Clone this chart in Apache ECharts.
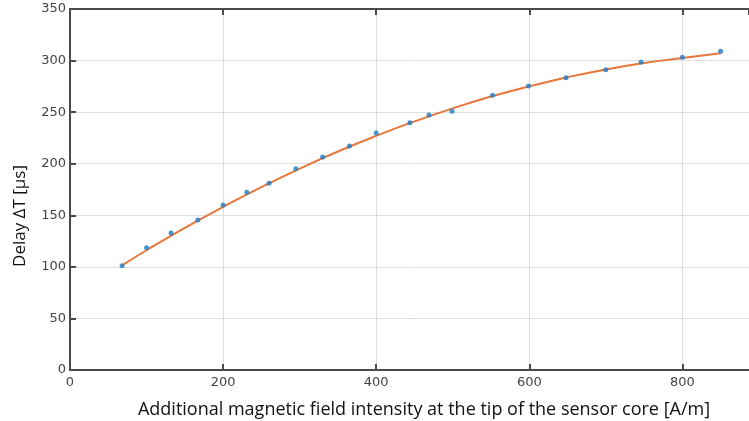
<!DOCTYPE html>
<html>
<head>
<meta charset="utf-8">
<script src="https://cdn.jsdelivr.net/npm/echarts@6/dist/echarts.min.js"></script>
<style>
html, body { margin: 0; padding: 0; background: #fff; }
#chart { width: 749px; height: 421px; }
</style>
</head>
<body>
<div id="chart"></div>
<script>
// measured points
var field_x = [68, 100, 132, 167, 200, 231, 260, 295, 330, 365, 400, 444, 469, 499, 552, 599, 648, 700, 746, 800, 850];
var delay_y = [101, 118.6, 132.8, 145.4, 160, 172.3, 181, 195, 206.5, 217.2, 229.8, 239.8, 247.2, 250.8, 266.3, 275.4, 283.4, 291.2, 298.6, 303.2, 309];
// fitted curve
var fit_x = [68, 100, 150, 200, 250, 300, 350, 400, 450, 500, 550, 600, 650, 700, 750, 800, 850];
var fit_y = [101.5, 116.1, 137.8, 158.2, 177.4, 195.2, 211.8, 227, 241, 253.7, 265.1, 275.1, 283.9, 291.4, 297.6, 302.5, 307];
var x_title = "Additional magnetic field intensity at the tip of the sensor core [A/m]";
var y_title = "Delay \u0394T [\u00b5s]";

var chart = echarts.init(document.getElementById("chart"));

var point_data = [];
for (var i = 0; i < field_x.length; i++) {
	point_data.push([field_x[i], delay_y[i]]);
}
var fit_data = [];
for (var j = 0; j < fit_x.length; j++) {
	fit_data.push([fit_x[j], fit_y[j]]);
}

var axis_color = "#4a4a4a";
// plot is cut off at the right edge, so the axis runs to about 887
var x_max = 887;
var option = {
	animation: false,
	grid: { left: 70, top: 9, right: 0, bottom: 51 },
	graphic: [{
		type: "text",
		x: 424,
		y: 410,
		style: {
			text: x_title,
			fill: "#111",
			font: "18px 'Open Sans'",
			align: "center",
			verticalAlign: "middle"
		}
	}, {
		type: "text",
		x: 20,
		y: 216,
		rotation: Math.PI / 2,
		style: {
			text: y_title,
			fill: "#111",
			font: "17px 'Open Sans'",
			align: "center",
			verticalAlign: "middle"
		}
	}],
	xAxis: [{
		type: "value",
		min: 0,
		max: x_max,
		interval: 200,
		position: "bottom",
		axisLine: { show: true, lineStyle: { color: axis_color, width: 2 } },
		axisTick: { show: true, inside: true, length: 6, lineStyle: { color: axis_color, width: 2 } },
		axisLabel: { color: "#444", fontSize: 13, fontFamily: "DejaVu Sans", margin: 6, showMaxLabel: false },
		splitLine: { show: true, lineStyle: { color: "#dedede", width: 1 } }
	}, {
		type: "value",
		min: 0,
		max: x_max,
		interval: 200,
		position: "top",
		axisLine: { show: true, lineStyle: { color: axis_color, width: 2 } },
		axisTick: { show: true, inside: true, length: 6, lineStyle: { color: axis_color, width: 2 } },
		axisLabel: { show: false },
		splitLine: { show: false }
	}],
	yAxis: {
		type: "value",
		min: 0,
		max: 350,
		interval: 50,
		axisLine: { show: true, lineStyle: { color: axis_color, width: 2 } },
		axisTick: { show: true, inside: true, length: 6, lineStyle: { color: axis_color, width: 2 } },
		axisLabel: { color: "#444", fontSize: 13, fontFamily: "DejaVu Sans", margin: 4 },
		splitLine: { show: true, lineStyle: { color: "#dedede", width: 1 } }
	},
	series: [{
		type: "line",
		data: fit_data,
		smooth: true,
		showSymbol: false,
		lineStyle: { color: "#e8763a", width: 2 },
		z: 2
	}, {
		type: "scatter",
		data: point_data,
		symbol: "circle",
		symbolSize: 5,
		itemStyle: { color: "#1f7ac8" },
		z: 3
	}]
};
chart.setOption(option);
</script>
</body>
</html>
